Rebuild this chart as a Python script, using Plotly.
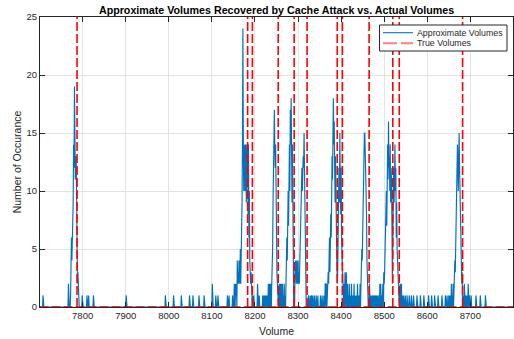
import plotly.graph_objects as go

# ---- data ----
x_start, x_end = 7700, 8800

# non-zero bins of the recovered-volume histogram (volume, count)
approx_volumes = [
    7708,
    7767, 7772, 7773, 7774, 7775, 7776, 7777, 7778, 7779, 7780, 7781, 7782, 7783, 7784, 7785, 7786, 7787, 7788, 7789, 7790,
    7799, 7810, 7814, 7825, 7901, 7992, 8011, 8029, 8048, 8056, 8070, 8082, 8101, 8109, 8114, 8136, 8140, 8148,
    8152, 8155, 8156, 8157, 8159, 8160, 8161, 8162, 8163, 8164, 8165, 8166, 8167,
    8168, 8169, 8170, 8171, 8172, 8173, 8174, 8175, 8176, 8177, 8178, 8179, 8180, 8181, 8182, 8183, 8184, 8185, 8186, 8187,
    8188, 8189, 8190, 8191, 8192, 8193, 8195, 8197,
    8206, 8210, 8218, 8221, 8224, 8226, 8228, 8231, 8233, 8235, 8237, 8239,
    8240, 8241, 8242, 8243, 8244, 8245, 8246, 8247, 8248, 8249, 8250, 8251, 8252, 8253,
    8256, 8258, 8260, 8262, 8264, 8266, 8268, 8270, 8272,
    8273, 8274, 8275, 8276, 8277, 8278, 8279, 8280, 8281, 8282, 8283, 8284, 8285, 8286, 8287, 8288, 8289,
    8291, 8293, 8294, 8295, 8296, 8297, 8298, 8299, 8300, 8301, 8302,
    8303, 8304, 8305, 8306, 8307, 8308, 8309, 8310, 8311, 8312, 8313, 8314, 8315, 8316, 8317, 8318,
    8324, 8328, 8331, 8334, 8338, 8342, 8346, 8352, 8356,
    8360, 8363, 8364, 8366, 8368, 8369, 8370, 8371, 8372, 8373, 8374, 8375, 8376, 8377, 8378, 8379, 8380,
    8381, 8382, 8383, 8384, 8385, 8386, 8387, 8388, 8389, 8390, 8391, 8392, 8393, 8394, 8395, 8396, 8397,
    8398, 8399, 8400, 8401, 8402, 8403, 8404, 8405, 8407, 8409, 8410, 8412, 8413, 8415, 8417, 8419, 8421,
    8424, 8426, 8428, 8430, 8432, 8435, 8438, 8440, 8442,
    8444, 8446, 8447, 8448, 8449, 8450, 8451, 8452, 8453, 8454, 8455, 8456, 8457, 8458, 8459, 8460, 8461, 8462,
    8466, 8468, 8471, 8474, 8477, 8480, 8483, 8486,
    8490, 8492, 8494, 8496, 8497, 8499, 8500, 8501, 8502, 8503, 8504, 8505, 8506, 8507, 8508, 8509, 8510,
    8511, 8512, 8513, 8514, 8515, 8516, 8517, 8518, 8519, 8520, 8521, 8522, 8523, 8524, 8525, 8526, 8527,
    8528, 8529, 8530, 8531, 8532, 8533, 8534, 8537, 8538, 8540, 8542, 8545, 8549, 8553, 8558, 8563, 8568,
    8576, 8584, 8592, 8603, 8610, 8617, 8625, 8634, 8642, 8646, 8650,
    8653, 8656, 8658, 8660, 8662, 8663, 8664, 8665, 8666, 8667, 8668, 8669, 8670, 8671, 8672, 8673, 8674,
    8675, 8676, 8677, 8678, 8679, 8680, 8681, 8683, 8686, 8689, 8692, 8695, 8698, 8702, 8713, 8723, 8735,
]
approx_counts = [
    1,
    2, 1, 3, 6, 4, 6, 5, 9, 14, 12, 19, 14, 11, 12, 13, 7, 4, 2, 3, 1,
    1, 1, 1, 1, 1, 1, 1, 1, 1, 1, 1, 1, 2, 1, 1, 1, 1, 1,
    2, 2, 1, 2, 4, 2, 3, 2, 4, 3, 2, 5, 2,
    4, 5, 9, 14, 24, 14, 10, 14, 13, 10, 14, 12, 9, 14, 11, 14, 8, 14, 6, 10,
    4, 3, 2, 3, 1, 2, 1, 1,
    2, 1, 1, 1, 1, 1, 1, 2, 2, 2, 2, 2,
    3, 5, 9, 13, 14, 17, 14, 12, 14, 8, 5, 3, 2, 1,
    2, 2, 2, 2, 2, 1, 2, 1, 3,
    5, 6, 4, 8, 10, 7, 12, 14, 10, 17, 14, 18, 12, 9, 14, 5, 2,
    1, 3, 4, 3, 2, 4, 3, 2, 4, 2, 3,
    2, 4, 7, 6, 9, 11, 12, 10, 13, 13, 12, 15, 12, 8, 4, 1,
    1, 1, 1, 1, 1, 1, 1, 1, 1,
    1, 2, 2, 2, 2, 1, 3, 2, 4, 6, 3, 5, 8, 6, 10, 13, 11,
    15, 18, 14, 16, 12, 9, 13, 7, 6, 4, 2, 3, 6, 10, 12, 9, 15,
    11, 8, 12, 6, 4, 2, 3, 1, 2, 3, 2, 3, 1, 2, 1, 2, 1,
    2, 1, 1, 2, 1, 1, 2, 1, 1,
    2, 3, 3, 5, 4, 7, 10, 8, 12, 15, 15, 13, 14, 12, 8, 4, 2, 1,
    2, 1, 1, 1, 1, 1, 1, 1,
    2, 2, 1, 2, 2, 3, 2, 3, 6, 4, 8, 10, 7, 12, 14, 11, 16,
    12, 13, 10, 14, 9, 12, 11, 7, 2, 6, 8, 12, 9, 13, 14, 10, 12,
    6, 9, 5, 3, 4, 2, 1, 2, 1, 2, 1, 1, 1, 1, 1, 1, 1,
    1, 1, 1, 1, 1, 1, 1, 1, 1, 1, 1,
    1, 2, 1, 2, 3, 2, 4, 3, 6, 5, 9, 11, 14, 12, 10, 13, 15,
    12, 10, 6, 5, 3, 2, 3, 1, 2, 1, 1, 2, 1, 1, 1, 1, 1,
]

true_volumes = [7787, 8183, 8194, 8254, 8291, 8321, 8391, 8403, 8465, 8520, 8535, 8682]
true_spike_height = 40

x_ticks = [7800, 7900, 8000, 8100, 8200, 8300, 8400, 8500, 8600, 8700]
y_ticks = [0, 5, 10, 15, 20, 25]

legend_labels = ["Approximate Volumes", "True Volumes"]

# ---- build full series over the volume axis ----
volumes = list(range(x_start, x_end + 1))
nz = dict(zip(approx_volumes, approx_counts))
approx_series = [nz.get(v, 0) for v in volumes]

# true volumes: a zero baseline plus a vertical spike at every true volume
true_x = [x_start, x_end]
true_y = [0, 0]
for v in true_volumes:
    true_x += [None, v, v]
    true_y += [None, 0, true_spike_height]

FONT = "Liberation Sans, Arial, Helvetica, sans-serif"
INK = "#262626"
BLUE = "#0072BD"
RED = "#FF0000"

fig = go.Figure()
fig.add_trace(go.Scatter(
    x=volumes, y=approx_series, mode="lines", name=legend_labels[0],
    line=dict(color=BLUE, width=1.15), showlegend=False,
))
fig.add_trace(go.Scatter(
    x=true_x, y=true_y, mode="lines", name=legend_labels[1],
    line=dict(color=RED, width=1.6, dash="9px,3px"), showlegend=False,
    connectgaps=False,
))

axis_common = dict(
    showline=True, linecolor=INK, linewidth=1, mirror="allticks",
    ticks="inside", ticklen=5, tickcolor=INK, tickwidth=1,
    showgrid=True, gridcolor="#e3e3e3", gridwidth=1,
    zeroline=False, tickfont=dict(family=FONT, size=9.5, color=INK),
)

# ---- legend box (MATLAB-style, compact) in plot-area paper coords ----
PL, PR, PT, PB = 40, 513, 17, 307
def px(xp):
    return (xp - PL) / (PR - PL)
def py(yp):
    return (PB - yp) / (PB - PT)

shapes = [
    dict(type="rect", xref="paper", yref="paper",
         x0=px(379.5), x1=px(507), y0=py(51), y1=py(25),
         line=dict(color=INK, width=1), fillcolor="white", layer="above"),
    dict(type="line", xref="paper", yref="paper",
         x0=px(383), x1=px(413), y0=py(32.7), y1=py(32.7),
         line=dict(color=BLUE, width=1.1), layer="above"),
    dict(type="line", xref="paper", yref="paper",
         x0=px(383), x1=px(413), y0=py(43.3), y1=py(43.3),
         line=dict(color="#ff8080", width=2, dash="14px,4px"), layer="above"),
]
annotations = [
    dict(xref="paper", yref="paper", x=px(415), y=py(32.7), xanchor="left", yanchor="middle",
         text=legend_labels[0], showarrow=False, font=dict(family=FONT, size=8.8, color=INK)),
    dict(xref="paper", yref="paper", x=px(415), y=py(43.3), xanchor="left", yanchor="middle",
         text=legend_labels[1], showarrow=False, font=dict(family=FONT, size=8.8, color=INK)),
]

fig.update_layout(
    width=514, height=339,
    margin=dict(l=PL, r=514 - PR, t=PT, b=339 - PB),
    paper_bgcolor="white", plot_bgcolor="white",
    title=dict(
        text="<b>Approximate Volumes Recovered by Cache Attack vs. Actual Volumes</b>",
        font=dict(family=FONT, size=10.7, color="#000000"),
        x=0.538, xanchor="center", y=0.97, yanchor="middle",
    ),
    xaxis=dict(
        range=[7701, 8799], tickvals=x_ticks,
        title=dict(text="Volume", font=dict(family=FONT, size=10.5, color=INK), standoff=7),
        **axis_common,
    ),
    yaxis=dict(
        range=[0, 25], tickvals=y_ticks,
        title=dict(text="Number of Occurance", font=dict(family=FONT, size=10.5, color=INK), standoff=2),
        **axis_common,
    ),
    shapes=shapes,
    annotations=annotations,
    showlegend=False,
)

fig.write_html("out.html")
